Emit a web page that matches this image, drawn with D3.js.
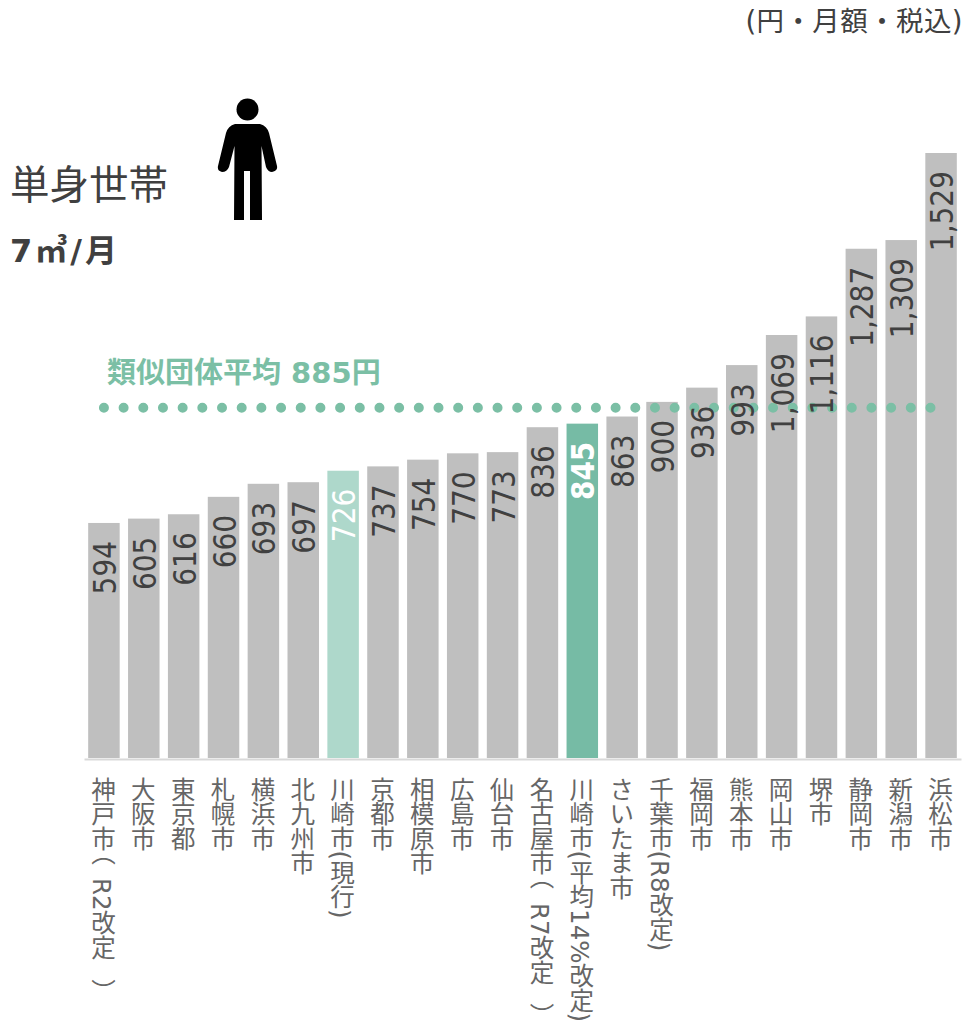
<!DOCTYPE html>
<html>
<head>
<meta charset="utf-8">
<script src="https://cdn.jsdelivr.net/npm/d3@7"></script>
<style>
  html, body { margin: 0; padding: 0; background: #fff; }
  svg { display: block; }
  svg text { font-family: "DejaVu Sans", "Noto Sans CJK JP", sans-serif; }
</style>
</head>
<body>
<svg id="chart" width="963" height="1029"></svg>
<script>
const cities = ['神戸市（R2改定）', '大阪市', '東京都', '札幌市', '横浜市', '北九州市', '川崎市(現行)', '京都市', '相模原市', '広島市', '仙台市', '名古屋市（R7改定）', '川崎市(平均14%改定)', 'さいたま市', '千葉市(R8改定)', '福岡市', '熊本市', '岡山市', '堺市', '静岡市', '新潟市', '浜松市'];
const fees = [594, 605, 616, 660, 693, 697, 726, 737, 754, 770, 773, 836, 845, 863, 900, 936, 993, 1069, 1116, 1287, 1309, 1529];
const average = 885;
const currentCity = '川崎市(現行)';
const revisedCity = '川崎市(平均14%改定)';

const green = '#7bbfa5';
const svg = d3.select('#chart');

const x = d3.scaleBand().domain(cities).range([84, 961]).paddingInner(0.21).paddingOuter(0.105);
const y = d3.scaleLinear().domain([0, 1529]).range([758, 153]);

const barFill = (d) => {
  if (d === currentCity) return '#aed8cb';
  if (d === revisedCity) return '#76bba5';
  return '#bfbfbf';
};

svg.append('g')
  .selectAll('rect')
  .data(cities)
  .join('rect')
  .attr('x', (d) => x(d))
  .attr('y', (d, i) => y(fees[i]))
  .attr('width', x.bandwidth())
  .attr('height', (d, i) => y(0) - y(fees[i]))
  .attr('fill', barFill);

// dotted average line
svg.append('line')
  .attr('x1', x(cities[0]) + x.bandwidth() / 2)
  .attr('x2', x(cities[cities.length - 1]) + 7)
  .attr('y1', y(average))
  .attr('y2', y(average))
  .attr('stroke', green)
  .attr('stroke-width', 10)
  .attr('stroke-linecap', 'round')
  .attr('stroke-dasharray', '0 19.68');

// value labels
svg.append('g')
  .selectAll('text')
  .data(cities)
  .join('text')
  .attr('transform', (d, i) => `translate(${x(d) + x.bandwidth() / 2 + 12},${y(fees[i]) + 18}) rotate(-90) scale(1,1.14)`)
  .attr('text-anchor', 'end')
  .attr('font-size', 28)
  .attr('font-weight', (d) => (d === revisedCity ? 'bold' : 'normal'))
  .attr('fill', (d) => (d === currentCity || d === revisedCity ? '#fff' : '#404040'))
  .text((d, i) => d3.format(',')(fees[i]));

// category axis
const axis = svg.append('g')
  .attr('transform', `translate(0,${y(0)})`)
  .call(d3.axisBottom(x).tickSize(0));
axis.attr('font-family', null);
axis.select('.domain').attr('stroke', '#d9d9d9').attr('stroke-width', 2).attr('transform', 'translate(0,1)');
axis.selectAll('.tick text')
  .attr('y', 19)
  .attr('dy', 0)
  .attr('x', -2.5)
  .attr('font-size', 24.5)
  .attr('fill', '#666')
  .attr('text-anchor', 'start')
  .style('writing-mode', 'vertical-rl');

// the full width brackets sit apart from the text in the original
axis.selectAll('.tick text')
  .filter((d) => d.includes('（'))
  .each(function (d) {
    const [name, rest] = d.split('（');
    const t = d3.select(this).text(name);
    t.append('tspan').attr('dy', -11).text('（');
    t.append('tspan').attr('dy', 14).text(rest.replace('）', ''));
    t.append('tspan').attr('dy', 19).text('）');
  });

svg.append('text')
  .attr('x', 963)
  .attr('y', 31)
  .attr('text-anchor', 'end')
  .attr('font-size', 27.5)
  .attr('letter-spacing', 0.4)
  .attr('fill', '#404040')
  .text('(円・月額・税込)');

svg.append('text')
  .attr('x', 10)
  .attr('y', 199)
  .attr('font-size', 39.5)
  .attr('fill', '#404040')
  .text('単身世帯');

svg.append('text')
  .attr('x', 10)
  .attr('y', 262)
  .attr('font-size', 32)
  .attr('font-weight', 'bold')
  .attr('letter-spacing', 3)
  .attr('fill', '#404040')
  .text('7㎥/月');

svg.append('text')
  .attr('x', 107)
  .attr('y', 383)
  .attr('font-size', 29)
  .attr('font-weight', 'bold')
  .attr('fill', green)
  .text('類似団体平均 885円');

// person icon
const person = svg.append('g').attr('fill', '#000');
person.append('circle').attr('cx', 247.5).attr('cy', 109.5).attr('r', 11);
person.append('path')
  .attr('d', 'M235 124Q228 126 226 133L218 166Q217 171 222 172Q227 172 229 167L234.500 146L234 220L244 220L244 171L250 171L250 220L262 220L261.500 146L266 167Q268 172 272 172Q278 171 277 166L269 133Q267 126 260 124Z');
</script>
</body>
</html>
